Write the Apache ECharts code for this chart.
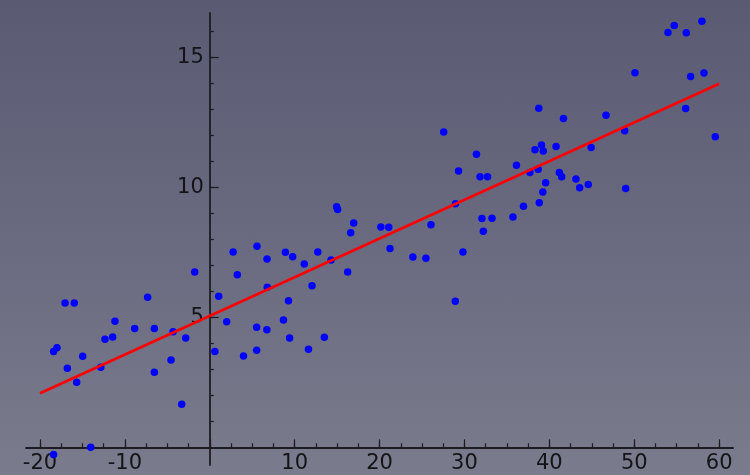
<!DOCTYPE html>
<html>
<head>
<meta charset="utf-8">
<script src="https://cdn.jsdelivr.net/npm/echarts@6/dist/echarts.min.js"></script>
<style>
html,body{margin:0;padding:0;}
#c{width:750px;height:475px;background:linear-gradient(to bottom,#5a5b73 0%,#6b6c81 55%,#7a7b8c 100%);}
</style>
</head>
<body>
<div id="c"></div>
<script>
// Scatter data
const xValues = [
  -18.4, -18.4, -18.0, -17.05, -15.96, -16.78, -15.68, -14.97, -14.03, -12.85,
  -12.34, -11.44, -11.17, -8.85, -7.32, -6.53, -6.53, -4.57, -4.33, -3.31,
  -2.84, -1.78, 0.6, 1.05, 1.99, 2.75, 3.24, 3.97, 5.56, 5.52,
  5.52, 6.74, 6.77, 6.72, 8.68, 8.9, 9.27, 9.4, 9.76, 11.13,
  11.62, 12.04, 12.72, 13.49, 14.28, 14.94, 15.06, 16.24, 16.6, 16.95,
  20.15, 21.08, 21.23, 23.92, 25.46, 26.05, 27.55, 28.94, 28.92, 29.3,
  29.82, 31.41, 31.84, 32.72, 32.06, 33.24, 32.22, 35.71, 36.12, 36.95,
  37.71, 38.3, 38.75, 38.68, 38.81, 39.07, 39.28, 39.23, 39.56, 40.79,
  41.17, 41.45, 41.66, 43.13, 43.57, 44.58, 44.92, 46.67, 48.87, 48.99,
  50.08, 53.97, 54.71, 56.13, 57.97, 56.64, 58.21, 56.05, 59.54
];
const yValues = [
  -0.28, 3.68, 3.83, 5.55, 5.55, 3.04, 2.5, 3.5, 0.0, 3.08,
  4.16, 4.24, 4.85, 4.57, 5.77, 4.57, 2.89, 3.36, 4.44, 1.66,
  4.2, 6.74, 3.68, 5.81, 4.83, 7.51, 6.64, 3.51, 7.73, 4.62,
  3.73, 7.24, 6.15, 4.52, 4.9, 7.5, 5.64, 4.2, 7.33, 7.05,
  3.77, 6.21, 7.51, 4.23, 7.2, 9.25, 9.14, 6.74, 8.25, 8.63,
  8.47, 8.46, 7.64, 7.32, 7.27, 8.56, 12.12, 9.37, 5.62, 10.62,
  7.51, 11.27, 10.4, 10.4, 8.8, 8.81, 8.31, 8.86, 10.85, 9.27,
  10.57, 11.44, 13.04, 10.69, 9.4, 11.62, 11.39, 9.82, 10.17, 11.57,
  10.57, 10.4, 12.64, 10.32, 9.98, 10.11, 11.53, 12.77, 12.17, 9.95,
  14.4, 15.95, 16.22, 15.94, 16.38, 14.26, 14.39, 13.03, 11.94
];
// Fitted line end points
const fitX = [-20, 60];
const fitY = [2.08, 13.98];
// Tick labels
const xTickLabels = [-20, -10, 10, 20, 30, 40, 50, 60];
const xMajorTicks = [-20, -10, 0, 10, 20, 30, 40, 50, 60];
const yTickLabels = [5, 10, 15];
const yMajorTicks = [5, 10, 15];

const xMinorTicks = [];
for (let v = -20; v <= 60; v += 2.5) xMinorTicks.push(v);
const yMinorTicks = [];
for (let v = 1; v <= 16; v += 1) yMinorTicks.push(v);

const X_MIN = -21.65, X_MAX = 61.63, Y_MIN = -0.68, Y_MAX = 16.7;
const W = 750, H = 475;
const G = {left: 26, right: 17, top: 13, bottom: 10};
// axes cross at (0,0): shift each axis from the grid edge to the zero of the other axis
const plotW = W - G.left - G.right, plotH = H - G.top - G.bottom;
const yAxisShift = -((0 - X_MIN) / (X_MAX - X_MIN)) * plotW;
const xAxisShift = -((0 - Y_MIN) / (Y_MAX - Y_MIN)) * plotH;

const axisColor = '#1c1c22';
const font = 'DejaVu Sans';

const points = xValues.map((x, i) => [x, yValues[i]]);
const fitLine = fitX.map((x, i) => [x, fitY[i]]);

const chart = echarts.init(document.getElementById('c'), null, {renderer: 'canvas'});
chart.setOption({
  animation: false,
  backgroundColor: 'transparent',
  grid: Object.assign({containLabel: false, outerBoundsMode: 'none'}, G),
  xAxis: [
    {
      type: 'value', min: X_MIN, max: X_MAX, position: 'bottom', offset: xAxisShift,
      axisLine: {show: true, onZero: false, lineStyle: {color: axisColor, width: 1.8}},
      axisTick: {show: true, inside: true, length: 8, customValues: xMajorTicks, lineStyle: {color: axisColor, width: 1.2}},
      axisLabel: {show: true, customValues: xTickLabels, margin: 6, color: '#141418', fontSize: 21, fontFamily: font},
      splitLine: {show: false}
    },
    {
      type: 'value', min: X_MIN, max: X_MAX, position: 'bottom', offset: xAxisShift,
      axisLine: {show: false, onZero: false},
      axisTick: {show: true, inside: true, length: 4, customValues: xMinorTicks, lineStyle: {color: axisColor, width: 1.2}},
      axisLabel: {show: false},
      splitLine: {show: false}
    }
  ],
  yAxis: [
    {
      type: 'value', min: Y_MIN, max: Y_MAX, position: 'left', offset: yAxisShift,
      axisLine: {show: true, onZero: false, lineStyle: {color: axisColor, width: 1.8}},
      axisTick: {show: true, inside: true, length: 9, customValues: yMajorTicks, lineStyle: {color: axisColor, width: 1.2}},
      axisLabel: {show: true, customValues: yTickLabels, margin: 6, color: '#141418', fontSize: 21, fontFamily: font},
      splitLine: {show: false}
    },
    {
      type: 'value', min: Y_MIN, max: Y_MAX, position: 'left', offset: yAxisShift,
      axisLine: {show: false, onZero: false},
      axisTick: {show: true, inside: true, length: 4, customValues: yMinorTicks, lineStyle: {color: axisColor, width: 1.2}},
      axisLabel: {show: false},
      splitLine: {show: false}
    }
  ],
  series: [
    {
      type: 'scatter', xAxisIndex: 0, yAxisIndex: 0,
      data: points, symbolSize: 7.5,
      itemStyle: {color: '#0000ff', opacity: 1},
      z: 2
    },
    {
      type: 'line', xAxisIndex: 0, yAxisIndex: 0,
      data: fitLine, showSymbol: false, symbol: 'none',
      lineStyle: {color: '#ff0000', width: 2.6},
      z: 3
    }
  ]
});
</script>
</body>
</html>
